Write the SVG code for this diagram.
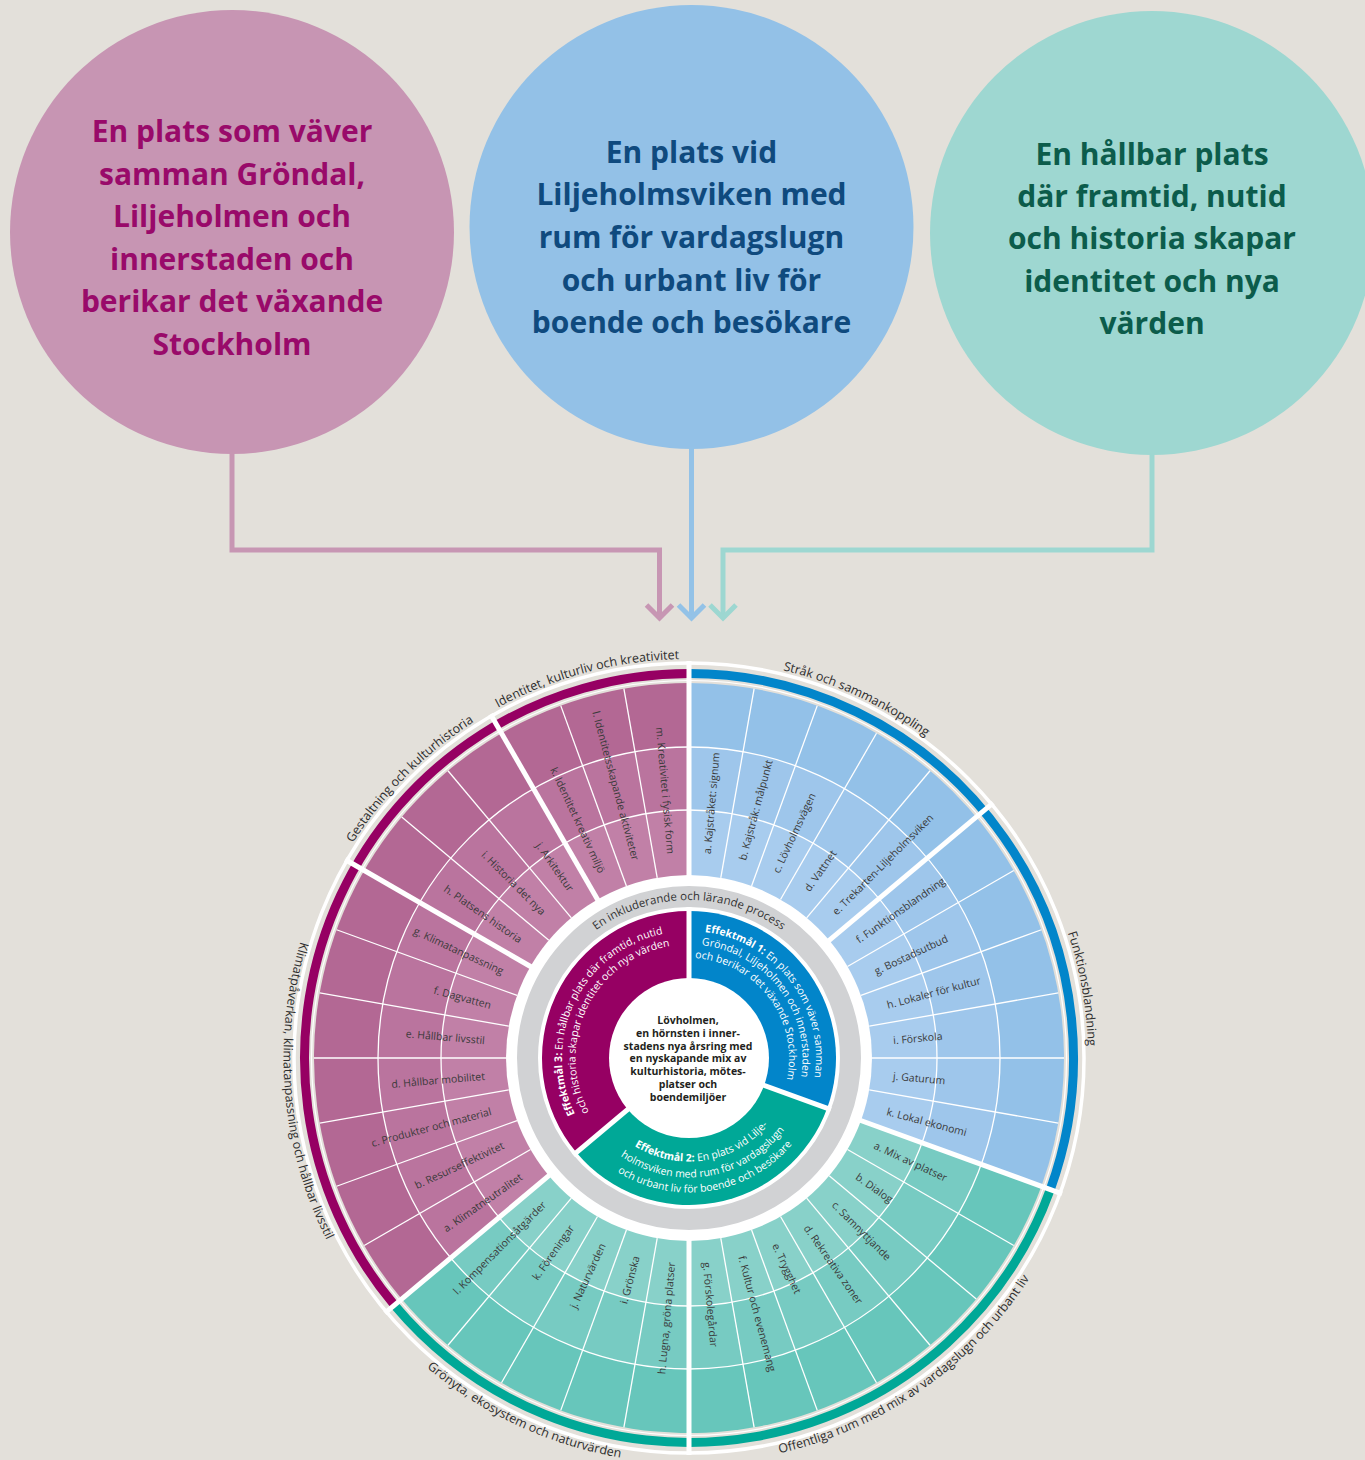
<svg xmlns="http://www.w3.org/2000/svg" width="1365" height="1460" viewBox="0 0 1365 1460">
<style>
.goal{font-family:"Open Sans","Liberation Sans",sans-serif;font-weight:700;font-size:30px;text-anchor:middle}
.cl{font-family:"Open Sans","Liberation Sans",sans-serif;font-size:10.5px;fill:#3a3a3a;dominant-baseline:central}
.cr{text-anchor:start}
.cL{text-anchor:end}
.sec{font-family:"Open Sans","Liberation Sans",sans-serif;font-size:12.5px;fill:#2e2e2e;text-anchor:middle}
.eff{font-family:"Open Sans","Liberation Sans",sans-serif;font-size:10.5px;fill:#ffffff;text-anchor:middle}
.proc{font-family:"Open Sans","Liberation Sans",sans-serif;font-size:11.5px;fill:#333333;text-anchor:middle}
.ctr{font-family:"Open Sans","Liberation Sans",sans-serif;font-size:10.5px;font-weight:700;fill:#231F20;text-anchor:middle}
.thin{stroke:#ffffff;stroke-width:1.3;fill:none}
.thick{stroke:#ffffff;stroke-width:5;fill:none}
.conn{fill:none;stroke-width:5}
</style>
<defs>
<marker id="ahP" markerUnits="userSpaceOnUse" markerWidth="30" markerHeight="30" viewBox="-15 -15 30 30" refX="0" refY="0" orient="auto" overflow="visible"><path d="M-13,-13 L0,0 L-13,13" fill="none" stroke="#C796B3" stroke-width="5"/></marker>
<marker id="ahB" markerUnits="userSpaceOnUse" markerWidth="30" markerHeight="30" viewBox="-15 -15 30 30" refX="0" refY="0" orient="auto" overflow="visible"><path d="M-13,-13 L0,0 L-13,13" fill="none" stroke="#93C2E7" stroke-width="5"/></marker>
<marker id="ahT" markerUnits="userSpaceOnUse" markerWidth="30" markerHeight="30" viewBox="-15 -15 30 30" refX="0" refY="0" orient="auto" overflow="visible"><path d="M-13,-13 L0,0 L-13,13" fill="none" stroke="#9DD7D1" stroke-width="5"/></marker>
<line id="rad" x1="689" y1="875" x2="689" y2="683"/>
<line id="sep" x1="689" y1="884" x2="689" y2="661"/>
<line id="esep" x1="689" y1="1058" x2="689" y2="907"/>
<path id="cw399" d="M314.06,921.53 A399,399 0 0 1 1063.94,921.53"/>
<path id="ccw405" d="M307.96,1196.69 A405.5,405.5 0 0 0 1070.04,1196.69"/>
<path id="cw158" d="M533.40,1030.56 A158,158 0 0 1 844.60,1030.56"/>
<path id="cw127" d="M563.93,1035.95 A127,127 0 0 1 814.07,1035.95"/>
<path id="cw113" d="M577.22,1038.29 A113.5,113.5 0 0 1 800.78,1038.29"/>
<path id="cw100" d="M590.52,1040.63 A100,100 0 0 1 787.48,1040.63"/>
<path id="ccw103" d="M587.07,1075.97 A103.5,103.5 0 0 0 790.93,1075.97"/>
<path id="ccw119" d="M571.32,1078.75 A119.5,119.5 0 0 0 806.68,1078.75"/>
<path id="ccw134" d="M556.54,1081.36 A134.5,134.5 0 0 0 821.46,1081.36"/>
</defs>

<rect width="1365" height="1460" fill="#E3E0DA"/>

<!-- Goal circles -->
<g id="goal-1">
<circle cx="232" cy="232" r="222" fill="#C795B3"/>
<text class="goal" fill="#990A6A"><tspan x="232" y="142">En plats som väver</tspan><tspan x="232" y="185">samman Gröndal,</tspan><tspan x="232" y="227">Liljeholmen och</tspan><tspan x="232" y="270">innerstaden och</tspan><tspan x="232" y="312">berikar det växande</tspan><tspan x="232" y="355">Stockholm</tspan></text>
</g>
<g id="goal-2">
<circle cx="691.5" cy="227" r="222" fill="#93C1E7"/>
<text class="goal" fill="#0F4A7E"><tspan x="691.5" y="163">En plats vid</tspan><tspan x="691.5" y="205">Liljeholmsviken med</tspan><tspan x="691.5" y="248">rum för vardagslugn</tspan><tspan x="691.5" y="291">och urbant liv för</tspan><tspan x="691.5" y="333">boende och besökare</tspan></text>
</g>
<g id="goal-3">
<circle cx="1152" cy="233" r="222" fill="#9ED7D1"/>
<text class="goal" fill="#0C5C4B"><tspan x="1152" y="165">En hållbar plats</tspan><tspan x="1152" y="207">där framtid, nutid</tspan><tspan x="1152" y="249">och historia skapar</tspan><tspan x="1152" y="292">identitet och nya</tspan><tspan x="1152" y="334">värden</tspan></text>
</g>

<!-- Connectors -->
<g id="connectors">
<path class="conn" stroke="#C796B3" d="M232,452 V550 H659.5 V618" marker-end="url(#ahP)"/>
<path class="conn" stroke="#93C2E7" d="M691.5,447 V618" marker-end="url(#ahB)"/>
<path class="conn" stroke="#9DD7D1" d="M1152,453 V550 H723 V618" marker-end="url(#ahT)"/>
</g>

<!-- Wheel -->
<g id="wheel">
<circle cx="689" cy="1058" r="395" fill="none" stroke="#ffffff" stroke-width="3.5"/>
<path d="M689,673.5 A384.5,384.5 0 0 1 1050.31,1189.51" fill="none" stroke="#0285CA" stroke-width="9"/>
<path d="M1050.31,1189.51 A384.5,384.5 0 0 1 394.46,1305.15" fill="none" stroke="#00A897" stroke-width="9"/>
<path d="M394.46,1305.15 A384.5,384.5 0 0 1 689,673.5" fill="none" stroke="#960063" stroke-width="9"/>
<circle cx="689" cy="1058" r="377.5" fill="none" stroke="#ffffff" stroke-width="1.2"/>

<path d="M689,1058 L689,683 A375,375 0 0 1 1041.38,1186.26 Z" fill="#93C1E8"/>
<path d="M689,1058 L1041.38,1186.26 A375,375 0 0 1 401.73,1299.05 Z" fill="#67C6BB"/>
<path d="M689,1058 L401.73,1299.05 A375,375 0 0 1 689,683 Z" fill="#B36894"/>
<path d="M689,1058 L689,747 A311,311 0 0 1 981.24,1164.37 Z" fill="#9EC6EB"/>
<path d="M689,1058 L981.24,1164.37 A311,311 0 0 1 450.76,1257.91 Z" fill="#77CBC2"/>
<path d="M689,1058 L450.76,1257.91 A311,311 0 0 1 689,747 Z" fill="#BA749E"/>
<path d="M689,1058 L689,810 A248,248 0 0 1 922.04,1142.82 Z" fill="#A8CCEE"/>
<path d="M689,1058 L922.04,1142.82 A248,248 0 0 1 499.02,1217.41 Z" fill="#88D1C9"/>
<path d="M689,1058 L499.02,1217.41 A248,248 0 0 1 689,810 Z" fill="#C180A7"/>

<circle class="thin" cx="689" cy="1058" r="248"/>
<circle class="thin" cx="689" cy="1058" r="311"/>
<g class="thin">
<use href="#rad" transform="rotate(10 689 1058)"/><use href="#rad" transform="rotate(20 689 1058)"/><use href="#rad" transform="rotate(30 689 1058)"/><use href="#rad" transform="rotate(40 689 1058)"/>
<use href="#rad" transform="rotate(60 689 1058)"/><use href="#rad" transform="rotate(70 689 1058)"/><use href="#rad" transform="rotate(80 689 1058)"/><use href="#rad" transform="rotate(90 689 1058)"/><use href="#rad" transform="rotate(100 689 1058)"/>
<use href="#rad" transform="rotate(120 689 1058)"/><use href="#rad" transform="rotate(130 689 1058)"/><use href="#rad" transform="rotate(140 689 1058)"/><use href="#rad" transform="rotate(150 689 1058)"/><use href="#rad" transform="rotate(160 689 1058)"/><use href="#rad" transform="rotate(170 689 1058)"/>
<use href="#rad" transform="rotate(190 689 1058)"/><use href="#rad" transform="rotate(200 689 1058)"/><use href="#rad" transform="rotate(210 689 1058)"/><use href="#rad" transform="rotate(220 689 1058)"/>
<use href="#rad" transform="rotate(240 689 1058)"/><use href="#rad" transform="rotate(250 689 1058)"/><use href="#rad" transform="rotate(260 689 1058)"/><use href="#rad" transform="rotate(270 689 1058)"/><use href="#rad" transform="rotate(280 689 1058)"/><use href="#rad" transform="rotate(290 689 1058)"/>
<use href="#rad" transform="rotate(310 689 1058)"/><use href="#rad" transform="rotate(320 689 1058)"/><use href="#rad" transform="rotate(340 689 1058)"/><use href="#rad" transform="rotate(350 689 1058)"/>
</g>

<circle cx="689" cy="1058" r="183" fill="#ffffff"/>
<circle cx="689" cy="1058" r="161.5" fill="none" stroke="#D1D2D4" stroke-width="21"/>

<path d="M689,1058 L689,911 A147,147 0 0 1 827.13,1108.28 Z" fill="#0285CA"/>
<path d="M689,1058 L827.13,1108.28 A147,147 0 0 1 576.39,1152.49 Z" fill="#00A897"/>
<path d="M689,1058 L576.39,1152.49 A147,147 0 0 1 689,911 Z" fill="#960063"/>
<circle cx="689" cy="1058" r="80" fill="#ffffff"/>
<g class="thick">
<use href="#esep"/><use href="#esep" transform="rotate(110 689 1058)"/><use href="#esep" transform="rotate(230 689 1058)"/>
<use href="#sep"/><use href="#sep" transform="rotate(50 689 1058)"/><use href="#sep" transform="rotate(110 689 1058)"/><use href="#sep" transform="rotate(180 689 1058)"/><use href="#sep" transform="rotate(230 689 1058)"/><use href="#sep" transform="rotate(300 689 1058)"/><use href="#sep" transform="rotate(330 689 1058)"/>
</g>
</g>

<!-- Section labels -->
<g id="section-labels">
<g transform="rotate(-15 689 1058)"><text class="sec"><textPath href="#cw399" startOffset="50%">Identitet, kulturliv och kreativitet</textPath></text></g>
<g transform="rotate(25 689 1058)"><text class="sec"><textPath href="#cw399" startOffset="50%">Stråk och sammankoppling</textPath></text></g>
<g transform="rotate(80 689 1058)"><text class="sec"><textPath href="#cw399" startOffset="50%">Funktionsblandning</textPath></text></g>
<g transform="rotate(-45 689 1058)"><text class="sec"><textPath href="#cw399" startOffset="50%">Gestaltning och kulturhistoria</textPath></text></g>
<g transform="rotate(-35 689 1058)"><text class="sec"><textPath href="#ccw405" startOffset="50%">Offentliga rum med mix av vardagslugn och urbant liv</textPath></text></g>
<g transform="rotate(25 689 1058)"><text class="sec"><textPath href="#ccw405" startOffset="50%">Grönyta, ekosystem och naturvärden</textPath></text></g>
<g transform="rotate(85 689 1058)"><text class="sec"><textPath href="#ccw405" startOffset="50%">Klimatpåverkan, klimatanpassning och hållbar livsstil</textPath></text></g>
</g>

<!-- Cell labels -->
<g id="cell-labels" class="cl">
<text class="cr" x="894" y="1058" transform="rotate(-85 689 1058)">a. Kajstråket: signum</text>
<text class="cr" x="894" y="1058" transform="rotate(-75 689 1058)">b. Kajstråk: målpunkt</text>
<text class="cr" x="894" y="1058" transform="rotate(-65 689 1058)">c. Lövholmsvägen</text>
<text class="cr" x="894" y="1058" transform="rotate(-55 689 1058)">d. Vattnet</text>
<text class="cr" x="894" y="1058" transform="rotate(-45 689 1058)">e. Trekarten-Liljeholmsviken</text>
<text class="cr" x="894" y="1058" transform="rotate(-35 689 1058)">f. Funktionsblandning</text>
<text class="cr" x="894" y="1058" transform="rotate(-25 689 1058)">g. Bostadsutbud</text>
<text class="cr" x="894" y="1058" transform="rotate(-15 689 1058)">h. Lokaler för kultur</text>
<text class="cr" x="894" y="1058" transform="rotate(-5 689 1058)">i. Förskola</text>
<text class="cr" x="894" y="1058" transform="rotate(5 689 1058)">j. Gaturum</text>
<text class="cr" x="894" y="1058" transform="rotate(15 689 1058)">k. Lokal ekonomi</text>
<text class="cr" x="894" y="1058" transform="rotate(25 689 1058)">a. Mix av platser</text>
<text class="cr" x="894" y="1058" transform="rotate(35 689 1058)">b. Dialog</text>
<text class="cr" x="894" y="1058" transform="rotate(45 689 1058)">c. Samnyttjande</text>
<text class="cr" x="894" y="1058" transform="rotate(55 689 1058)">d. Rekreativa zoner</text>
<text class="cr" x="894" y="1058" transform="rotate(65 689 1058)">e. Trygghet</text>
<text class="cr" x="894" y="1058" transform="rotate(75 689 1058)">f. Kultur och evenemang</text>
<text class="cr" x="894" y="1058" transform="rotate(85 689 1058)">g. Förskolegårdar</text>
<text class="cL" x="484" y="1058" transform="rotate(-85 689 1058)">h. Lugna, gröna platser</text>
<text class="cL" x="484" y="1058" transform="rotate(-75 689 1058)">i. Grönska</text>
<text class="cL" x="484" y="1058" transform="rotate(-65 689 1058)">j. Naturvärden</text>
<text class="cL" x="484" y="1058" transform="rotate(-55 689 1058)">k. Föreningar</text>
<text class="cL" x="484" y="1058" transform="rotate(-45 689 1058)">l. Kompensationsåtgärder</text>
<text class="cL" x="484" y="1058" transform="rotate(-35 689 1058)">a. Klimatneutralitet</text>
<text class="cL" x="484" y="1058" transform="rotate(-25 689 1058)">b. Resurseffektivitet</text>
<text class="cL" x="484" y="1058" transform="rotate(-15 689 1058)">c. Produkter och material</text>
<text class="cL" x="484" y="1058" transform="rotate(-5 689 1058)">d. Hållbar mobilitet</text>
<text class="cL" x="484" y="1058" transform="rotate(5 689 1058)">e. Hållbar livsstil</text>
<text class="cL" x="484" y="1058" transform="rotate(15 689 1058)">f. Dagvatten</text>
<text class="cL" x="484" y="1058" transform="rotate(25 689 1058)">g. Klimatanpassning</text>
<text class="cL" x="484" y="1058" transform="rotate(35 689 1058)">h. Platsens historia</text>
<text class="cL" x="484" y="1058" transform="rotate(45 689 1058)">i. Historia det nya</text>
<text class="cL" x="484" y="1058" transform="rotate(55 689 1058)">j. Arkitektur</text>
<text class="cL" x="484" y="1058" transform="rotate(65 689 1058)">k. Identitet kreativ miljö</text>
<text class="cL" x="484" y="1058" transform="rotate(75 689 1058)">l. Identitetsskapande aktiviteter</text>
<text class="cL" x="484" y="1058" transform="rotate(85 689 1058)">m. Kreativitet i fysisk form</text>
</g>

<!-- Process ring -->
<g id="process">
<text class="proc"><textPath href="#cw158" startOffset="50%">En inkluderande och lärande process</textPath></text>
</g>

<!-- Effektmål -->
<g id="effektmal-1" transform="rotate(53 689 1058)">
<text class="eff"><textPath href="#cw127" startOffset="50%"><tspan font-weight="700">Effektmål 1:</tspan> En plats som väver samman</textPath></text>
<text class="eff"><textPath href="#cw113" startOffset="50%">Gröndal, Liljeholmen och innerstaden</textPath></text>
<text class="eff"><textPath href="#cw100" startOffset="50%">och berikar det växande Stockholm</textPath></text>
</g>
<g id="effektmal-2" transform="rotate(-9 689 1058)">
<text class="eff"><textPath href="#ccw103" startOffset="50%"><tspan font-weight="700">Effektmål 2:</tspan> En plats vid Lilje-</textPath></text>
<text class="eff"><textPath href="#ccw119" startOffset="50%">holmsviken med rum för vardagslugn</textPath></text>
<text class="eff"><textPath href="#ccw134" startOffset="50%">och urbant liv för boende och besökare</textPath></text>
</g>
<g id="effektmal-3" transform="rotate(-64 689 1058)">
<text class="eff"><textPath href="#cw127" startOffset="50%"><tspan font-weight="700">Effektmål 3:</tspan> En hållbar plats där framtid, nutid</textPath></text>
<text class="eff"><textPath href="#cw113" startOffset="50%">och historia skapar identitet och nya värden</textPath></text>
</g>

<!-- Center -->
<g id="center">
<text class="ctr"><tspan x="688" y="1024">Lövholmen,</tspan><tspan x="688" y="1036.8">en hörnsten i inner-</tspan><tspan x="688" y="1049.6">stadens nya årsring med</tspan><tspan x="688" y="1062.4">en nyskapande mix av</tspan><tspan x="688" y="1075.2">kulturhistoria, mötes-</tspan><tspan x="688" y="1088">platser och</tspan><tspan x="688" y="1100.8">boendemiljöer</tspan></text>
</g>
</svg>
